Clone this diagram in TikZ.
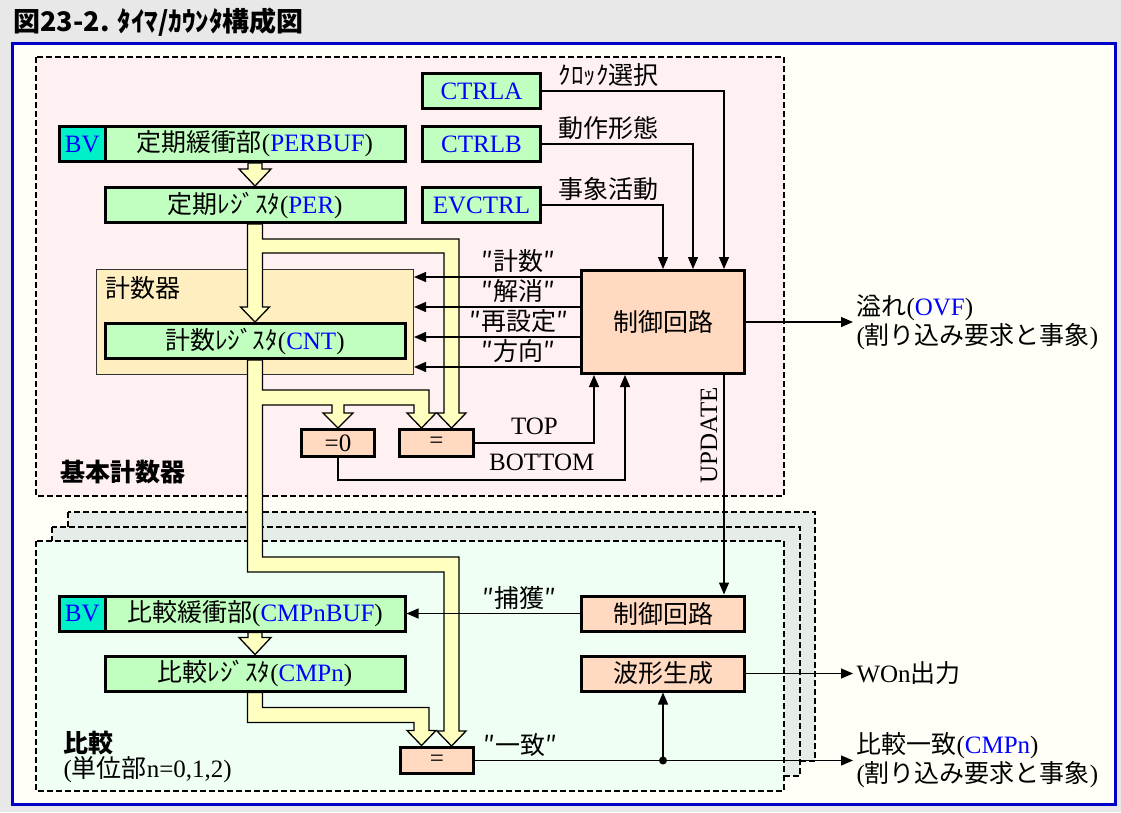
\documentclass[tikz,border=0pt]{standalone}
\usepackage{fontspec}
\setmainfont{Liberation Serif}
\newfontfamily\jp{Noto Sans CJK JP}
\usepackage{xcolor}
\usetikzlibrary{arrows.meta, calc, positioning}
\definecolor{mygray}{HTML}{E8E8E8}
\definecolor{mycream}{HTML}{FFFFF8}
\definecolor{myframe}{HTML}{0000C8}
\definecolor{mypink}{HTML}{FFF0F2}
\definecolor{mymint}{HTML}{F0FFF4}
\definecolor{mylayer}{HTML}{E6ECE8}
\definecolor{mygreen}{HTML}{C0FFC0}
\definecolor{myteal}{HTML}{00F0C8}
\definecolor{mypeach}{HTML}{FFD9C0}
\definecolor{myorange}{HTML}{FFEFC0}
\definecolor{myyellow}{HTML}{FFFFC0}
\definecolor{myblue}{HTML}{0000FF}
\tikzstyle{regbox} = [rectangle, draw=black, line width=3pt, fill=mygreen, minimum height=35pt, inner sep=0pt]
\tikzstyle{bvbox} = [regbox, fill=myteal, minimum width=45.5pt]
\tikzstyle{ctlbox} = [regbox, fill=mypeach]
\tikzstyle{cmpbox} = [regbox, fill=mypeach, minimum width=73pt, minimum height=27pt]
\tikzstyle{bus} = [draw=black, line width=1.3pt, fill=myyellow, line join=miter]
\tikzstyle{arrow} = [line width=1.3pt, -{Triangle[length=12pt,width=10pt]}]
\tikzstyle{region} = [draw=black, line width=1.3pt, dash pattern=on 6pt off 3pt]
\tikzstyle{heading} = [anchor=west, font=\fontsize{25}{29}\selectfont\jp\bfseries]
\tikzstyle{outtext} = [anchor=west, align=left]
\newcommand{\regname}[1]{\textcolor{myblue}{#1}}
\pgfdeclarelayer{back}
\pgfdeclarelayer{buslayer}
\pgfsetlayers{back,buslayer,main}

\begin{document}
\begin{tikzpicture}[x=1pt, y=-1pt, font=\fontsize{25}{29}\selectfont]
    \useasboundingbox (0,0) rectangle (1121,812);
    \node[anchor=west, font=\fontsize{27}{31}\selectfont\jp\bfseries] (title) at (10,22) {図23-2. ﾀｲﾏ/ｶｳﾝﾀ構成図};

    % frame, regions and the counter box
    \begin{pgfonlayer}{back}
        \fill[mygray] (0,0) rectangle (1121,812);
        \draw[myframe, line width=2.5pt, fill=mycream] (12.5,43.5) rectangle (1115.5,804.5);
        \draw[region, fill=mypink] (36,57) rectangle (784,496);
        \draw[region, fill=mylayer] (68,512) rectangle (815,761);
        \draw[region, fill=mylayer] (52,527) rectangle (800,776);
        \draw[region, fill=mymint] (36,541) rectangle (784,791);
        \node[draw=black!80, line width=1pt, fill=myorange, minimum width=317pt, minimum height=105pt] (kei) at (255,322) {};
        \node[anchor=west] (keilbl) at (102,288) {\jp 計数器};
    \end{pgfonlayer}

    % basic counter
    \node[regbox, minimum width=300pt] (perbuf) at (255,144) {{\jp 定期緩衝部}(\regname{PERBUF})};
    \node[bvbox, left=-3pt of perbuf] (bv1) {\regname{BV}};
    \node[regbox, minimum width=300pt] (per) at (255,205) {{\jp 定期ﾚｼﾞｽﾀ}(\regname{PER})};
    \node[regbox, minimum width=300pt] (cnt) at (255,341) {{\jp 計数ﾚｼﾞｽﾀ}(\regname{CNT})};
    \node[regbox, minimum width=118pt] (ctrla) at (481.5,91) {\regname{CTRLA}};
    \node[regbox, minimum width=118pt, below=15pt of ctrla] (ctrlb) {\regname{CTRLB}};
    \node[regbox, minimum width=118pt, below=23pt of ctrlb] (evctrl) {\regname{EVCTRL}};
    \node[ctlbox, minimum width=163pt, minimum height=103pt] (ctl) at (663,322) {\jp 制御回路};
    \node[cmpbox] (eqz) at (338,443) {=0};
    \node[cmpbox, minimum width=74pt] (eqt) at (436.5,443) {=};
    \node[heading] (basic) at (57,472) {基本計数器};

    % compare unit
    \node[regbox, minimum width=300pt] (cmpbuf) at (255,613.5) {{\jp 比較緩衝部}(\regname{CMPnBUF})};
    \node[bvbox, left=-3pt of cmpbuf] (bv2) {\regname{BV}};
    \node[regbox, minimum width=300pt] (cmp) at (255,673.5) {{\jp 比較ﾚｼﾞｽﾀ}(\regname{CMPn})};
    \node[ctlbox, minimum width=163pt] (ctl2) at (663,613.5) {\jp 制御回路};
    \node[ctlbox, minimum width=163pt] (wave) at (663,673.5) {\jp 波形生成};
    \node[cmpbox, minimum height=26pt] (eqc) at (437,760.5) {=};
    \node[heading] (cmplbl) at (60,743) {比較};
    \node[anchor=west] (unitlbl) at (60,770) {({\jp 単位部}n=0,1,2)};

    % outputs
    \node[outtext] (ovf) at (853,322) {{\jp 溢れ}(\regname{OVF})\\({\jp 割り込み要求と事象})};
    \node[outtext] (wout) at (853,673.5) {WOn{\jp 出力}};
    \node[outtext] (cmpout) at (853,760.5) {{\jp 比較一致}(\regname{CMPn})\\({\jp 割り込み要求と事象})};

    % data buses
    \begin{pgfonlayer}{buslayer}
        \draw[bus] ($(perbuf.south)+(-7,0)$) -- ++(0,6) -- ++(-9,0) -- ++(16,17) -- ++(16,-17) -- ++(-9,0) -- ++(0,-6) -- cycle;
        \draw[bus] ($(cmpbuf.south)+(-7,0)$) -- ++(0,5) -- ++(-9,0) -- ++(16,17) -- ++(16,-17) -- ++(-9,0) -- ++(0,-5) -- cycle;
        \draw[bus] ($(per.south)+(-7.5,0)$) -- ++(0,83) -- ++(-7,0) -- ++(14.5,15) -- ++(14.5,-15) -- ++(-7,0)
            -- ++(0,-54) -- ++(181.5,0) -- ++(0,160) -- ++(-7,0) -- ++(14.5,15) -- ++(14.5,-15) -- ++(-7,0)
            -- ++(0,-174) -- ++(-196.5,0) -- ++(0,-15) -- cycle;
        \draw[bus] ($(cnt.south)+(-7.5,0)$) -- ++(0,212) -- ++(196.5,0) -- ++(0,159) -- ++(-7,0) -- ++(14.5,15) -- ++(14.5,-15) -- ++(-7,0)
            -- ++(0,-174) -- ++(-196.5,0) -- ++(0,-152) -- ++(69.5,0) -- ++(0,8) -- ++(-9,0) -- ++(15,15) -- ++(15,-15) -- ++(-9,0)
            -- ++(0,-8) -- ++(70,0) -- ++(0,8) -- ++(-7,0) -- ++(14.5,15) -- ++(14.5,-15) -- ++(-7,0)
            -- ++(0,-23) -- ++(-166.5,0) -- ++(0,-30) -- cycle;
        \draw[bus] ($(cmp.south)+(-7.5,0)$) -- ++(0,30) -- ++(166.5,0) -- ++(0,8) -- ++(-7,0) -- ++(14.5,15) -- ++(14.5,-15) -- ++(-7,0)
            -- ++(0,-23) -- ++(-166.5,0) -- ++(0,-15) -- cycle;
    \end{pgfonlayer}

    % control signals
    \draw[arrow] (ctrla) -| node[pos=0, anchor=south west, xshift=13pt] {\jp ｸﾛｯｸ選択} ($(ctl.north)+(61,0)$);
    \draw[arrow] (ctrlb) -| node[pos=0, anchor=south west, xshift=13pt] {\jp 動作形態} ($(ctl.north)+(30,0)$);
    \draw[arrow] (evctrl) -| node[pos=0, anchor=south west, xshift=13pt] {\jp 事象活動} (ctl.north);
    \foreach \dy/\txt in {-45/″計数″, -15/″解消″, 15/″再設定″, 45/″方向″}
        \draw[arrow] ($(ctl.west)+(0,\dy)$) -- node[pos=0.37, above] {\jp\txt} ($(kei.east)+(0,\dy)$);
    \draw[arrow] (eqt) -| node[pos=0.25, above=4pt] {TOP} ($(ctl.south)+(-69,0)$);
    \draw[arrow] (eqz.south) |- node[pos=0.855, above=5pt] {BOTTOM} ($(ctl.south)+(-38,105)$) -- ($(ctl.south)+(-38,0)$);
    \draw[arrow] ($(ctl.south)+(61,0)$) -- node[pos=0.274, rotate=90, anchor=south, inner sep=6pt] {UPDATE} ($(ctl2.north)+(61,0)$);
    \draw[arrow] (ctl) -- (ovf);

    \draw[arrow] (ctl2) -- node[pos=0.35, above] {\jp ″捕獲″} (cmpbuf);
    \draw[arrow] (wave) -- (wout);
    \draw[arrow] (eqc) -- node[pos=0.12, above] {\jp ″一致″} (cmpout);
    \coordinate (junc) at (wave.south |- eqc.east);
    \fill (junc) circle (4pt);
    \draw[arrow] (junc) -- (wave);
\end{tikzpicture}
\end{document}
